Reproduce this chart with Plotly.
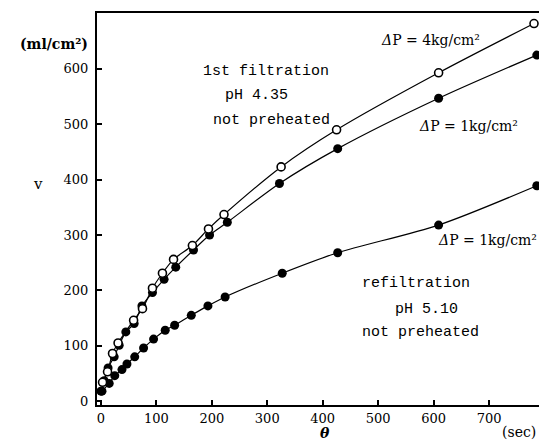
import plotly.graph_objects as go

# ΔP = 4 kg/cm², 1st filtration (open circles)
theta_4 = [3, 12, 21, 31, 59, 75, 93, 111, 131, 165, 194, 222, 325, 425, 609, 781]
v_4 = [34, 53, 86, 105, 146, 167, 204, 231, 256, 281, 311, 337, 423, 490, 593, 682]

# ΔP = 1 kg/cm², 1st filtration (filled circles)
theta_1 = [0, 6, 13, 24, 33, 45, 60, 74, 93, 114, 135, 167, 196, 228, 322, 427, 609, 786]
v_1 = [18, 37, 60, 80, 101, 125, 140, 172, 196, 220, 242, 273, 300, 323, 393, 456, 547, 625]

# ΔP = 1 kg/cm², refiltration (filled circles)
theta_r = [2, 15, 25, 38, 47, 61, 77, 95, 116, 133, 163, 193, 224, 327, 427, 609, 786]
v_r = [18, 32, 46, 57, 67, 80, 96, 112, 128, 137, 155, 172, 188, 231, 268, 318, 389]

x_ticks = [0, 100, 200, 300, 400, 500, 600, 700]
y_ticks = [0, 100, 200, 300, 400, 500, 600]

TXT = "DejaVu Serif"
BLOCK = "Liberation Mono"

fig = go.Figure()
line = dict(color="black", width=1.2, shape="spline", smoothing=0.8)
fig.add_trace(go.Scatter(x=theta_r, y=v_r, mode="lines+markers", line=line,
                         marker=dict(size=9, color="black"), cliponaxis=False))
fig.add_trace(go.Scatter(x=theta_1, y=v_1, mode="lines+markers", line=line,
                         marker=dict(size=9, color="black"), cliponaxis=False))
fig.add_trace(go.Scatter(x=theta_4, y=v_4, mode="lines+markers", line=line,
                         marker=dict(size=8, color="white", line=dict(color="black", width=1.6)),
                         cliponaxis=False))

ann = []
def t(x, y, s, size=15, family=TXT, **kw):
    d = dict(x=x, y=y, text=s, showarrow=False, font=dict(family=family, size=size, color="black"))
    d.update(kw)
    ann.append(d)

t(298, 595, "1st filtration", family=BLOCK, size=15)
t(280, 552, "pH 4.35", family=BLOCK, size=15)
t(307, 506, "not preheated", family=BLOCK, size=15)
t(594, 653, "<i>Δ</i>P = 4kg/cm²", size=14)
t(663, 497, "<i>Δ</i>P = 1kg/cm²", size=14)
t(698, 291, "<i>Δ</i>P = 1kg/cm²", size=14)
t(568, 212, "refiltration", family=BLOCK, size=15)
t(588, 165, "pH 5.10", family=BLOCK, size=15)
t(577, 124, "not preheated", family=BLOCK, size=15)

ann.append(dict(xref="paper", yref="paper", x=-0.016, y=0.921, xanchor="right", yanchor="middle",
                text="<b>(ml/cm²)</b>", showarrow=False, font=dict(family=TXT, size=14, color="black")))
ann.append(dict(xref="paper", yref="paper", x=-0.133, y=0.564, xanchor="center", yanchor="middle",
                text="v", showarrow=False, font=dict(family=TXT, size=15, color="black")))
ann.append(dict(xref="paper", yref="paper", x=0.516, y=-0.072, xanchor="center", yanchor="middle",
                text="<b><i>θ</i></b>", showarrow=False, font=dict(family=TXT, size=14, color="black")))
ann.append(dict(xref="paper", yref="paper", x=0.998, y=-0.07, xanchor="right", yanchor="middle",
                text="(sec)", showarrow=False, font=dict(family=TXT, size=14, color="black")))

fig.update_layout(
    width=539, height=444,
    margin=dict(l=97, r=0, t=13, b=39),
    paper_bgcolor="white", plot_bgcolor="white",
    showlegend=False,
    annotations=ann,
    font=dict(family=TXT, color="black"),
)
fig.update_xaxes(range=[-7, 790], tickvals=x_ticks, ticks="inside", ticklen=5, tickwidth=1.5,
                 tickcolor="black", showline=True, linecolor="black", linewidth=2, mirror=True,
                 showgrid=False, zeroline=False, tickfont=dict(family=TXT, size=13, color="black"))
fig.update_yaxes(range=[-7, 701], tickvals=y_ticks, ticks="inside", ticklen=5, tickwidth=1.5,
                 tickcolor="black", showline=True, linecolor="black", linewidth=2,
                 showgrid=False, zeroline=False, ticklabelstandoff=4,
                 tickfont=dict(family=TXT, size=13, color="black"))

fig.write_html("out.html")
